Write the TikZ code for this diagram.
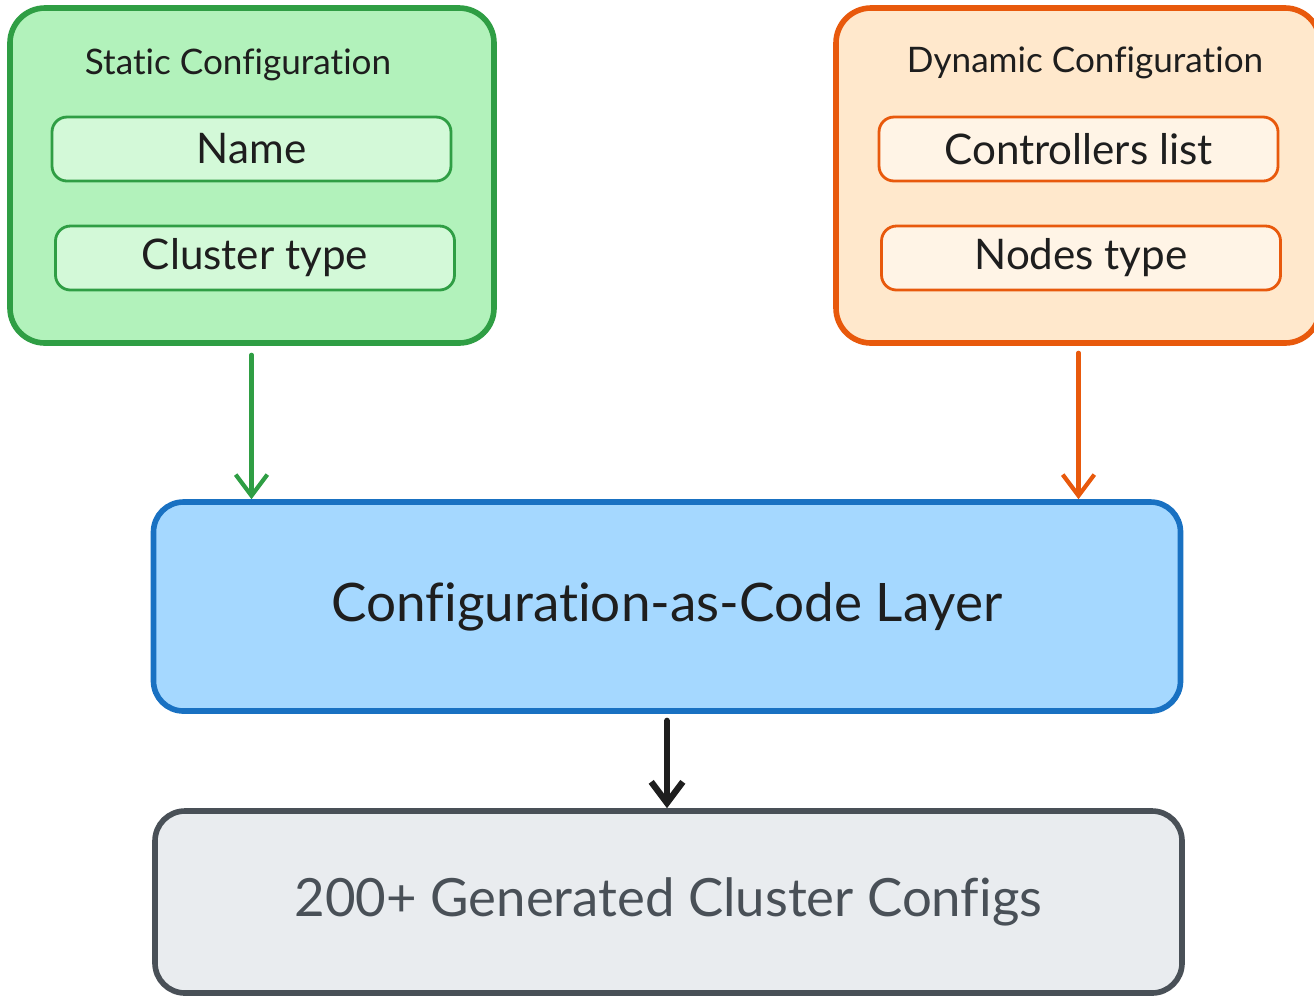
\documentclass[tikz,border=0pt]{standalone}
\usepackage{fontspec}
\setmainfont{Lato}[Ligatures=NoCommon]
\usetikzlibrary{positioning,arrows.meta}

\definecolor{grnline}{HTML}{2F9E44}
\definecolor{grnfill}{HTML}{B2F2BB}
\definecolor{grnsub}{HTML}{D3F9D8}
\definecolor{orgline}{HTML}{E8590C}
\definecolor{orgfill}{HTML}{FFE8CC}
\definecolor{orgsub}{HTML}{FFF4E6}
\definecolor{bluline}{HTML}{1971C2}
\definecolor{blufill}{HTML}{A5D8FF}
\definecolor{gryline}{HTML}{495057}
\definecolor{gryfill}{HTML}{E9ECEF}
\definecolor{ink}{HTML}{1E1E1E}

\tikzset{
  outer/.style={draw, line width=1.6pt, rounded corners=0.35cm, minimum width=4.84cm, minimum height=3.35cm},
  field/.style={draw, line width=0.8pt, rounded corners=0.15cm, minimum width=3.99cm, minimum height=0.64cm, text=ink, font=\fontsize{12}{14}\selectfont},
  layer/.style={draw, line width=1.6pt, rounded corners=0.3cm, minimum width=10.27cm},
  flow/.style={->, line width=1.2pt, line cap=round, >={Straight Barb[length=6pt,width=9pt]}}
}

\begin{document}
\begin{tikzpicture}
    \useasboundingbox (0,0) rectangle (13.14,-9.95);
    % Static side
    \node[outer, draw=grnline, fill=grnfill] (static) at (2.52,-1.755) {};
    \node[text=ink, font=\fontsize{10}{12}\selectfont] (stitle) at (2.38,-0.65) {Static Configuration};
    \node[field, draw=grnline, fill=grnsub] (name) at (2.515,-1.49) {Name};
    \node[field, draw=grnline, fill=grnsub] (ctype) at (2.55,-2.58) {Cluster type};
    % Dynamic side
    \node[outer, draw=orgline, fill=orgfill] (dynamic) at (10.78,-1.755) {};
    \node[text=ink, font=\fontsize{10}{12}\selectfont] (dtitle) at (10.85,-0.63) {Dynamic Configuration};
    \node[field, draw=orgline, fill=orgsub] (ctrl) at (10.785,-1.49) {Controllers list};
    \node[field, draw=orgline, fill=orgsub] (ntype) at (10.81,-2.58) {Nodes type};
    % Code layer
    \node[layer, draw=bluline, fill=blufill, minimum height=2.09cm, text=ink,
          font=\fontsize{15.1}{18}\selectfont] (layer) at (6.67,-6.065) {Configuration-as-Code Layer};
    % Generated configs
    \node[layer, draw=gryline, fill=gryfill, minimum height=1.82cm, text=gryline,
          font=\fontsize{15}{18}\selectfont] (configs) at (6.685,-9.02) {200+ Generated Cluster Configs};
    % Arrows
    \draw[flow, grnline] (static.south -| name.south) ++(0,-0.09) coordinate (s0) -- (s0 |- layer.north);
    \draw[flow, orgline] (dynamic.south -| ctrl.south) ++(0,-0.07) coordinate (d0) -- (d0 |- layer.north);
    \draw[flow, ink, line width=1.8pt] (layer.south) ++(0,-0.07) coordinate (l0) -- (l0 |- configs.north);
\end{tikzpicture}
\end{document}
